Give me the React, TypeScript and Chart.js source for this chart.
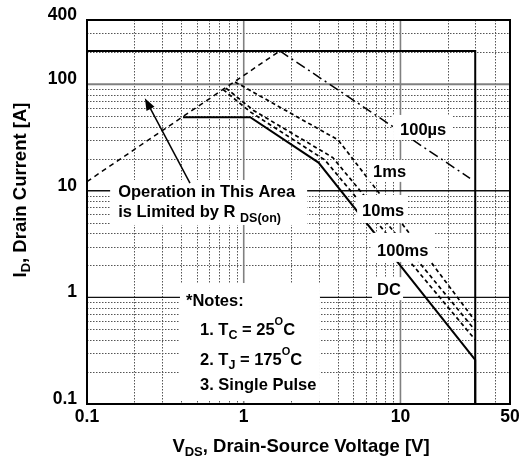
import React, { useEffect, useRef } from 'react';
import { Chart, registerables } from 'chart.js';

Chart.register(...registerables);

// ---- Data ----
const rdsV = [0.1, 1.7];
const rdsI = [12.2, 205];
const us100V = [1.7, 27.8];
const us100I = [205, 13.1];
const ms1V = [0.88, 4.0, 7.2, 30];
const ms1I = [105, 30, 9.8, 0.6];
const ms10V = [0.77, 1.15, 3.7, 30];
const ms10I = [92, 57, 20.5, 0.49];
const ms100V = [0.74, 1.1, 3.3, 30];
const ms100I = [89, 55, 19.4, 0.4];
const dcV = [0.41, 1.1, 3.0, 30, 30];
const dcI = [49, 49, 18.4, 0.26, 0.1];
const limitV = [0.1, 30, 30];
const limitI = [205, 205, 0.1];

const xTickLabels = [0.1, 1, 10, 50];
const yTickLabels = [0.1, 1, 10, 100, 400];

const curveLabelText = ['100µs', '1ms', '10ms', '100ms', 'DC'];
const curveLabelV = [9.94, 6.69, 5.69, 7.09, 7.09];
const curveLabelI = [33.4, 13.5, 5.8, 2.45, 1.05];

const FONT = '"Liberation Sans", Arial, Helvetica, sans-serif';
const f = (s: number) => `bold ${s}px ${FONT}`;

type Run = [string, number, number];

function runsWidth(ctx: CanvasRenderingContext2D, runs: Run[]) {
  let w = 0;
  for (const [t, s] of runs) {
    ctx.font = f(s);
    w += ctx.measureText(t).width;
  }
  return w;
}
function drawRuns(ctx: CanvasRenderingContext2D, x: number, y: number, runs: Run[]) {
  let cx = x;
  for (const [t, s, dy] of runs) {
    ctx.font = f(s);
    ctx.fillText(t, cx, y + dy);
    cx += ctx.measureText(t).width;
  }
}

const pts = (xs: number[], ys: number[]) => xs.map((v, i) => ({ x: v, y: ys[i] }));

const gridPlugin = {
  id: 'soaGrid',
  beforeDatasetsDraw(chart: any) {
    const { ctx, chartArea: a, scales } = chart;
    const xs = scales.x;
    const ys = scales.y;
    ctx.save();
    ctx.fillStyle = '#fff';
    ctx.fillRect(a.left, a.top, a.right - a.left, a.bottom - a.top);
    // minor dotted
    ctx.strokeStyle = '#555';
    ctx.lineWidth = 1;
    ctx.setLineDash([1.5, 1.5]);
    const xMinor: number[] = [];
    for (const d of [0.1, 1, 10]) for (let k = 2; k <= 9; k++) if (d * k < 50) xMinor.push(d * k);
    for (const v of xMinor) {
      const px = Math.round(xs.getPixelForValue(v)) + 0.5;
      ctx.beginPath();
      ctx.moveTo(px, a.top);
      ctx.lineTo(px, a.bottom);
      ctx.stroke();
    }
    const yMinor: number[] = [];
    for (const d of [0.1, 1, 10, 100]) for (let k = 2; k <= 9; k++) if (d * k < 400) yMinor.push(d * k);
    for (const v of yMinor) {
      const py = Math.round(ys.getPixelForValue(v)) + 0.5;
      ctx.beginPath();
      ctx.moveTo(a.left, py);
      ctx.lineTo(a.right, py);
      ctx.stroke();
    }
    ctx.setLineDash([]);
    // major verticals
    ctx.strokeStyle = '#808080';
    ctx.lineWidth = 1.6;
    for (const v of [1, 10]) {
      const px = xs.getPixelForValue(v);
      ctx.beginPath();
      ctx.moveTo(px, a.top);
      ctx.lineTo(px, a.bottom);
      ctx.stroke();
    }
    // major horizontals
    for (const v of [1, 10, 100]) {
      ctx.strokeStyle = v === 100 ? '#808080' : '#111';
      ctx.lineWidth = v === 100 ? 2 : 1.4;
      const py = ys.getPixelForValue(v);
      ctx.beginPath();
      ctx.moveTo(a.left, py);
      ctx.lineTo(a.right, py);
      ctx.stroke();
    }
    ctx.restore();
  },
};

const overlayPlugin = {
  id: 'soaOverlay',
  afterDatasetsDraw(chart: any) {
    const { ctx, chartArea: a, scales } = chart;
    const xs = scales.x;
    const ys = scales.y;
    const P = (v: number, i: number) => [xs.getPixelForValue(v), ys.getPixelForValue(i)];
    ctx.save();
    ctx.textBaseline = 'alphabetic';
    ctx.textAlign = 'left';

    const box = (x: number, y: number, r: number[]) => {
      ctx.fillStyle = '#fff';
      ctx.fillRect(x + r[0], y + r[1], r[2] - r[0], r[3] - r[1]);
      ctx.fillStyle = '#000';
    };

    // curve labels
    const boxes = [
      [-7, -20, 52, 5],
      [-5, -17, 37, 5],
      [-5, -21, 45, 7],
      [-5, -23, 58, 6],
      [-5, -18, 26, 5],
    ];
    curveLabelText.forEach((t, k) => {
      const [x, y] = P(curveLabelV[k], curveLabelI[k]);
      box(x, y, boxes[k]);
      drawRuns(ctx, x, y, [[t, 16.5, 0]]);
    });

    // RDS(on) label
    {
      const [x, y] = P(0.158, 8.75);
      box(x, y, [-8, -17, 189, 28]);
      drawRuns(ctx, x, y, [['Operation in This Area', 16.5, 0]]);
      drawRuns(ctx, x, y + 20, [
        ['is Limited by R ', 16.5, 0],
        ['DS(on)', 12.5, 5],
      ]);
    }
    // arrow
    {
      const [x1, y1] = P(0.454, 11.8);
      const [x2, y2] = P(0.234, 73.8);
      const ang = Math.atan2(y2 - y1, x2 - x1);
      const hl = 12;
      const hw = 4.5;
      ctx.strokeStyle = '#000';
      ctx.lineWidth = 1.5;
      ctx.beginPath();
      ctx.moveTo(x1, y1);
      ctx.lineTo(x2 - Math.cos(ang) * hl * 0.8, y2 - Math.sin(ang) * hl * 0.8);
      ctx.stroke();
      ctx.beginPath();
      ctx.moveTo(x2, y2);
      ctx.lineTo(x2 - Math.cos(ang) * hl + Math.sin(ang) * hw, y2 - Math.sin(ang) * hl - Math.cos(ang) * hw);
      ctx.lineTo(x2 - Math.cos(ang) * hl - Math.sin(ang) * hw, y2 - Math.sin(ang) * hl + Math.cos(ang) * hw);
      ctx.closePath();
      ctx.fillStyle = '#000';
      ctx.fill();
    }
    // notes
    {
      const [x, y] = P(0.428, 0.83);
      box(x, y, [-6, -23, 134, 95]);
      drawRuns(ctx, x, y, [['*Notes:', 16.5, 0]]);
      drawRuns(ctx, x + 14, y + 29, [
        ['1. T', 16.5, 0],
        ['C', 12.5, 4],
        [' = 25', 16.5, 0],
        ['O', 11, -10],
        ['C', 16.5, 0],
      ]);
      drawRuns(ctx, x + 14, y + 59, [
        ['2. T', 16.5, 0],
        ['J', 12.5, 4],
        [' = 175', 16.5, 0],
        ['O', 11, -10],
        ['C', 16.5, 0],
      ]);
      drawRuns(ctx, x + 14, y + 84, [['3. Single Pulse', 16.5, 0]]);
    }

    // frame
    ctx.strokeStyle = '#000';
    ctx.lineWidth = 2;
    ctx.strokeRect(a.left, a.top, a.right - a.left, a.bottom - a.top);

    // tick labels
    ctx.fillStyle = '#000';
    ctx.font = f(17.5);
    ctx.textAlign = 'right';
    for (const v of yTickLabels) {
      ctx.fillText(String(v), a.left - 10, ys.getPixelForValue(v));
    }
    ctx.textAlign = 'center';
    for (const v of xTickLabels) {
      ctx.fillText(String(v), xs.getPixelForValue(v), a.bottom + 18);
    }

    // axis titles
    ctx.textAlign = 'left';
    const xt: Run[] = [
      ['V', 18.5, 0],
      ['DS', 13, 4],
      [', Drain-Source Voltage [V]', 18.5, 0],
    ];
    const xw = runsWidth(ctx, xt);
    drawRuns(ctx, 301 - xw / 2, a.bottom + 48, xt);

    const yt: Run[] = [
      ['I', 18.5, 0],
      ['D', 13, 4],
      [', Drain Current [A]', 18.5, 0],
    ];
    const yw = runsWidth(ctx, yt);
    ctx.save();
    ctx.translate(26, 190);
    ctx.rotate(-Math.PI / 2);
    drawRuns(ctx, -yw / 2, 0, yt);
    ctx.restore();

    ctx.restore();
  },
};

export default function App() {
  const ref = useRef<HTMLCanvasElement>(null);
  useEffect(() => {
    const line = (xs: number[], ys: number[], extra: any) => ({
      data: pts(xs, ys),
      showLine: true,
      pointRadius: 0,
      borderColor: '#000',
      backgroundColor: '#000',
      borderWidth: 1.5,
      tension: 0,
      fill: false,
      borderCapStyle: 'butt',
      borderJoinStyle: 'miter',
      ...extra,
    });
    const chart = new Chart(ref.current!, {
      type: 'scatter',
      data: {
        datasets: [
          line(limitV, limitI, { label: 'Limit', borderWidth: 2 }),
          line(rdsV, rdsI, { label: 'RDS(on)', borderDash: [5, 4] }),
          line(us100V, us100I, { label: '100µs', borderDash: [10, 4, 2, 4] }),
          line(ms1V, ms1I, { label: '1ms', borderDash: [4, 3], borderWidth: 1.7 }),
          line(ms10V, ms10I, { label: '10ms', borderDash: [4, 3], borderWidth: 1.7 }),
          line(ms100V, ms100I, { label: '100ms', borderDash: [4, 3], borderWidth: 1.7 }),
          line(dcV, dcI, { label: 'DC', borderWidth: 2 }),
        ] as any,
      },
      options: {
        animation: false,
        responsive: false,
        events: [],
        layout: { padding: { left: 87, right: 10, top: 20, bottom: 57 } },
        plugins: { legend: { display: false }, tooltip: { enabled: false } },
        scales: {
          x: { type: 'logarithmic', min: 0.1, max: 50, display: false },
          y: { type: 'logarithmic', min: 0.1, max: 400, display: false },
        },
      } as any,
      plugins: [gridPlugin as any, overlayPlugin as any],
    });
    return () => chart.destroy();
  }, []);
  return (
    <div style={{ position: 'fixed', left: 0, top: 0, width: 520, height: 461, background: '#fff' }}>
      <canvas ref={ref} width={520} height={461} style={{ display: 'block', width: 520, height: 461 }} />
    </div>
  );
}
